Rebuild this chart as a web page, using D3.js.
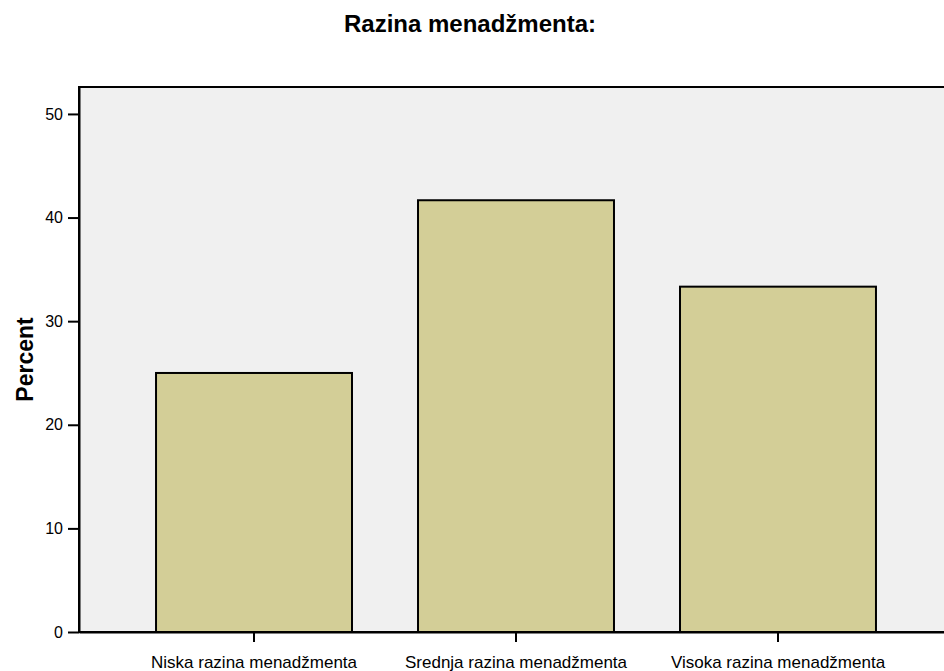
<!DOCTYPE html>
<html>
<head>
<meta charset="utf-8">
<script src="https://cdn.jsdelivr.net/npm/d3@7"></script>
<style>
  body { margin: 0; background: #fff; overflow: hidden; }
  svg { font-family: "Liberation Sans", Arial, sans-serif; }
</style>
</head>
<body>
<div id="chart"></div>
<script>
// data
var categories = ["Niska razina menadžmenta", "Srednja razina menadžmenta", "Visoka razina menadžmenta"];
var percents   = [25.0, 41.67, 33.33];
var yTicks     = [0, 10, 20, 30, 40, 50];

var W = 944, H = 671;
var plotLeft = 79, plotTop = 87, plotBottom = 632, plotRight = 953;

var svg = d3.select("#chart").append("svg")
            .attr("width", W)
            .attr("height", H);

var x = d3.scaleBand()
          .domain(categories)
          .range([plotLeft, plotRight])
          .paddingInner(0.252)
          .paddingOuter(0.294);

var y = d3.scaleLinear()
          .domain([0, 52.6])
          .range([plotBottom, plotTop]);

// plot background
svg.append("rect")
   .attr("x", plotLeft)
   .attr("y", plotTop)
   .attr("width", plotRight - plotLeft)
   .attr("height", plotBottom - plotTop)
   .attr("fill", "#f0f0f0")
   .attr("stroke", "#000")
   .attr("stroke-width", 2);

// bars
svg.selectAll("rect.bar")
   .data(categories)
   .enter()
   .append("rect")
      .attr("class", "bar")
      .attr("x", function(d) { return x(d); })
      .attr("y", function(d, i) { return y(percents[i]); })
      .attr("width", x.bandwidth())
      .attr("height", function(d, i) { return plotBottom - y(percents[i]); })
      .attr("fill", "#d3ce97")
      .attr("stroke", "#000")
      .attr("stroke-width", 2);

// y axis
var yAxis = svg.append("g")
               .attr("transform", "translate(" + plotLeft + ",0)")
               .call(d3.axisLeft(y).tickValues(yTicks).tickSize(11).tickSizeOuter(0).tickPadding(5));
yAxis.select(".domain").attr("stroke-width", 2);
yAxis.selectAll(".tick line").attr("stroke-width", 2);
yAxis.selectAll("text").style("font-size", "16px").attr("fill", "#000");

// x axis
var xAxis = svg.append("g")
               .attr("transform", "translate(0," + plotBottom + ")")
               .call(d3.axisBottom(x).tickSize(10).tickPadding(14).tickSizeOuter(0));
xAxis.select(".domain").attr("stroke-width", 2);
xAxis.selectAll(".tick line").attr("stroke-width", 2);
xAxis.selectAll("text").style("font-size", "17px").attr("fill", "#000");

// title
svg.append("text")
   .text("Razina menadžmenta:")
   .attr("x", 470)
   .attr("y", 32)
   .attr("text-anchor", "middle")
   .style("font-size", "24px")
   .style("font-weight", "bold");

// y label
svg.append("text")
   .text("Percent")
   .attr("transform", "translate(33," + ((plotTop + plotBottom) / 2) + ") rotate(-90)")
   .attr("text-anchor", "middle")
   .style("font-size", "23px")
   .style("font-weight", "bold");
</script>
</body>
</html>
